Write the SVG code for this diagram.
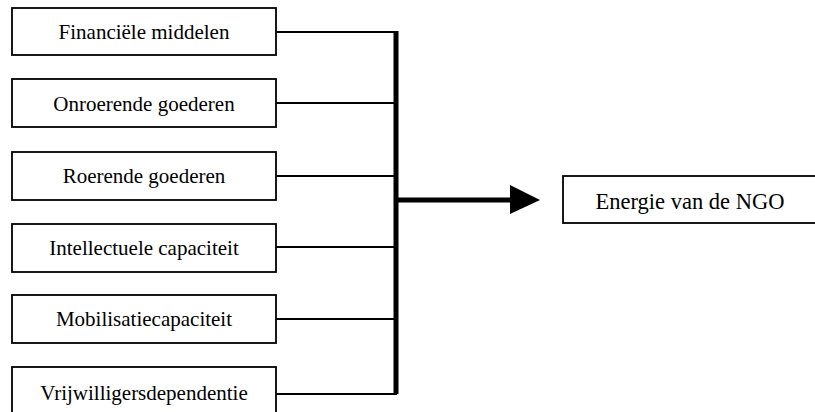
<svg xmlns="http://www.w3.org/2000/svg" width="815" height="412" viewBox="0 0 815 412">
<defs>
<style>
.box{fill:#fff;stroke:#000;stroke-width:1.8}
.lbl{font-family:'Liberation Serif','DejaVu Serif',serif;font-size:21px;fill:#000;text-anchor:middle}
.thin{fill:none;stroke:#000;stroke-width:1.8}
.thick{fill:none;stroke:#000;stroke-width:5}
</style>
</defs>
<rect width="815" height="412" fill="#fff"/>
<g id="connectors">
<path class="thin" d="M276 32H397M276 103H397M276 176H397M276 247H397M276 319H397M276 394H397"/>
<path class="thick" d="M396 31V394M396 200H512"/>
<polygon points="510,185 540,200 510,214" fill="#000"/>
</g>
<g id="n1"><rect class="box" x="12" y="8" width="264" height="47"/><text class="lbl" x="144" y="39">Financiële middelen</text></g>
<g id="n2"><rect class="box" x="12" y="79" width="264" height="48"/><text class="lbl" x="144" y="111">Onroerende goederen</text></g>
<g id="n3"><rect class="box" x="12" y="152" width="264" height="48"/><text class="lbl" x="144" y="183">Roerende goederen</text></g>
<g id="n4"><rect class="box" x="12" y="224" width="264" height="48"/><text class="lbl" x="144" y="255">Intellectuele capaciteit</text></g>
<g id="n5"><rect class="box" x="12" y="295" width="264" height="48"/><text class="lbl" x="144" y="326">Mobilisatiecapaciteit</text></g>
<g id="n6"><rect class="box" x="12" y="367" width="264" height="60"/><text class="lbl" x="144" y="400">Vrijwilligersdependentie</text></g>
<g id="n7"><rect class="box" x="563" y="176" width="262" height="47"/><text class="lbl" x="690" y="209" style="font-size:22.5px">Energie van de NGO</text></g>
</svg>
